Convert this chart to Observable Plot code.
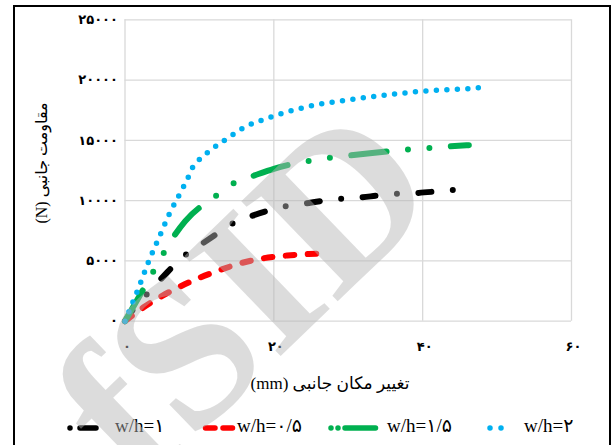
<!DOCTYPE html>
<html>
<head>
<meta charset="utf-8">
<script src="https://cdn.jsdelivr.net/npm/d3@7"></script>
<script src="https://cdn.jsdelivr.net/npm/@observablehq/plot@0.6"></script>
<style>
  html, body { margin: 0; padding: 0; background: #fff; }
  body { width: 613px; height: 445px; position: relative; overflow: hidden; }
  #frame { position: absolute; left: 13px; top: 5px; width: 598px; height: 500px; box-sizing: border-box; border: 2.5px solid #000; }
  #chart { position: absolute; left: 0; top: 0; }
  #chart svg { overflow: visible; }
  .title { position: absolute; white-space: nowrap; font-family: "Liberation Serif", "DejaVu Sans", serif; color: #000; }
  #legend .lab { position: absolute; top: 414px; font-family: "Liberation Serif", "DejaVu Sans", serif; font-size: 19px; white-space: nowrap; }
  #wm { position: absolute; left: 0; top: 0; pointer-events: none; }
</style>
</head>
<body>
<div id="frame"></div>
<div id="chart"></div>
<div class="title" id="xtitle" dir="rtl"></div>
<div class="title" id="ytitle" dir="rtl"></div>
<div id="legend"></div>
<script>
// Lateral displacement (mm) and lateral resistance (N) for each w/h ratio
const dispW1  = [0, 1.0, 3.5, 5.7, 7.3, 9.7, 12.0, 14.2, 16.6, 19.1, 21.4, 24.0, 26.7, 29.0, 31.6, 34.1, 36.4, 39.1, 41.8, 44.0, 46.7];
const forceW1 = [0, 890, 2600, 4070, 5090, 6140, 7110, 8020, 8630, 9150, 9510, 9740, 10000, 10150, 10260, 10430, 10560, 10630, 10760, 10880, 10980];

const dispW05  = [0, 2.5, 5.0, 7.5, 10.2, 12.8, 15.5, 18.7, 21.8, 24.7, 26.4];
const forceW05 = [0, 1150, 2100, 2900, 3650, 4250, 4800, 5230, 5450, 5570, 5620];

const dispW15  = [0, 3.0, 4.55, 6.25, 8.1, 12.3, 14.7, 17.4, 20.0, 25.0, 27.5, 30.2, 32.9, 37.7, 40.5, 43.2, 46.2];
const forceW15 = [0, 3235, 4950, 6750, 8300, 10430, 11480, 12090, 12640, 13330, 13555, 13745, 13935, 14220, 14350, 14490, 14600];

const dispW2  = [0, 1.9, 3.2, 4.6, 6.0, 7.6, 8.4, 9.1, 10.1, 11.3, 13.8, 16.2, 18.8, 21.5, 24.2, 26.9, 29.7, 32.4, 35.0, 37.8, 40.6, 43.3, 46.0, 47.5];
const forceW2 = [0, 2880, 4980, 6970, 8960, 10840, 11810, 12770, 13470, 14100, 15180, 16130, 16760, 17310, 17750, 18080, 18330, 18560, 18750, 18950, 19110, 19190, 19280, 19360];

const seriesNames = ["w/h=۱", "w/h=۰/۵", "w/h=۱/۵", "w/h=۲"];
const xTicks = [0, 20, 40, 60];
const yTicks = [0, 5000, 10000, 15000, 20000, 25000];
const xTitle = "تغییر مکان جانبی (mm)";
const yTitle = "مقاومت جانبی (N)";
const faDigits = "۰۱۲۳۴۵۶۷۸۹";
const toFa = d => String(d).replace(/\d/g, c => faDigits[+c]);

// line styles per series (dash-dot, dash, long-dash-dot-dot, round dots)
const styles = [
  {color: "#000000", width: 6, dash: "13,21.5,0,21.5"},
  {color: "#ff0000", width: 6, dash: "8.5,13.5"},
  {color: "#00b050", width: 6, dash: "35.5,21.5,0,21.5,0,21.5"},
  {color: "#00b0f0", width: 5.5, dash: "0,10.5"}
];

const columns = [[dispW1, forceW1], [dispW05, forceW05], [dispW15, forceW15], [dispW2, forceW2]];
const tables = columns.map(([xs, ys], i) => xs.map((x, j) => ({x, y: ys[j], s: seriesNames[i]})));

const lineMarks = tables.map((rows, i) => Plot.line(rows, {
  x: "x", y: "y",
  stroke: styles[i].color,
  strokeWidth: styles[i].width,
  strokeDasharray: styles[i].dash,
  strokeLinecap: "round",
  curve: "monotone-x"
}));

const chart = Plot.plot({
  width: 613,
  height: 360,
  marginLeft: 124.5,
  marginRight: 42,
  marginTop: 19.3,
  marginBottom: 39.3,
  style: {fontFamily: "'DejaVu Sans', sans-serif", fontSize: "13px", background: "transparent"},
  x: {domain: [0, 60]},
  y: {domain: [0, 25000]},
  marks: [
    Plot.gridX(xTicks, {stroke: "#d9d9d9", strokeOpacity: 1, strokeWidth: 1.3}),
    Plot.gridY(yTicks, {stroke: "#d9d9d9", strokeOpacity: 1, strokeWidth: 1.3}),
    Plot.axisX(xTicks, {tickSize: 0, tickPadding: 21, tickFormat: toFa, label: null, fontWeight: "bold", dx: 2}),
    Plot.axisY(yTicks, {tickSize: 0, tickPadding: 7, tickFormat: toFa, label: null, fontWeight: "bold"}),
    ...lineMarks
  ]
});
document.getElementById("chart").appendChild(chart);

// axis titles
const xt = document.getElementById("xtitle");
xt.textContent = xTitle;
xt.style.fontSize = "17px";
xt.style.left = "330px"; xt.style.top = "383px";
xt.style.transform = "translate(-50%, -50%)";

const yt = document.getElementById("ytitle");
yt.textContent = yTitle;
yt.style.fontSize = "16px";
yt.style.left = "41px"; yt.style.top = "163px";
yt.style.transform = "translate(-50%, -50%) rotate(-90deg)";

// legend swatches and labels
const legend = d3.select("#legend");
const swatches = [
  {x0: 70, x1: 96, dash: "0,10,16,60", left: 115},
  {x0: 205.5, x1: 232.5, dash: "9.5,8", left: 237},
  {x0: 331, x1: 375.5, dash: "0,7,0,7,30.5,60", left: 387},
  {x0: 490, x1: 512, dash: "0,11", left: 524}
];
const sw = d3.select("body").append("svg")
  .attr("width", 613).attr("height", 445)
  .style("position", "absolute").style("left", 0).style("top", 0);
swatches.forEach((s, i) => {
  sw.append("line")
    .attr("x1", s.x0).attr("x2", s.x1).attr("y1", 428).attr("y2", 428)
    .attr("stroke", styles[i].color).attr("stroke-width", 5.5)
    .attr("stroke-linecap", "round").attr("stroke-dasharray", s.dash);
  legend.append("div").attr("class", "lab")
    .style("left", s.left + "px")
    .text(seriesNames[i]);
});

// faint diagonal watermark over the whole figure
const wm = d3.select("body").append("svg").attr("id", "wm")
  .attr("width", 613).attr("height", 445);
wm.append("text")
  .attr("transform", "translate(140,492) rotate(-44)")
  .attr("font-family", "Liberation Serif, serif")
  .attr("font-weight", "bold")
  .attr("font-size", 212)
  .attr("fill", "rgb(181,181,181)")
  .attr("fill-opacity", 0.47)
  .text("fSID");
</script>
</body>
</html>
